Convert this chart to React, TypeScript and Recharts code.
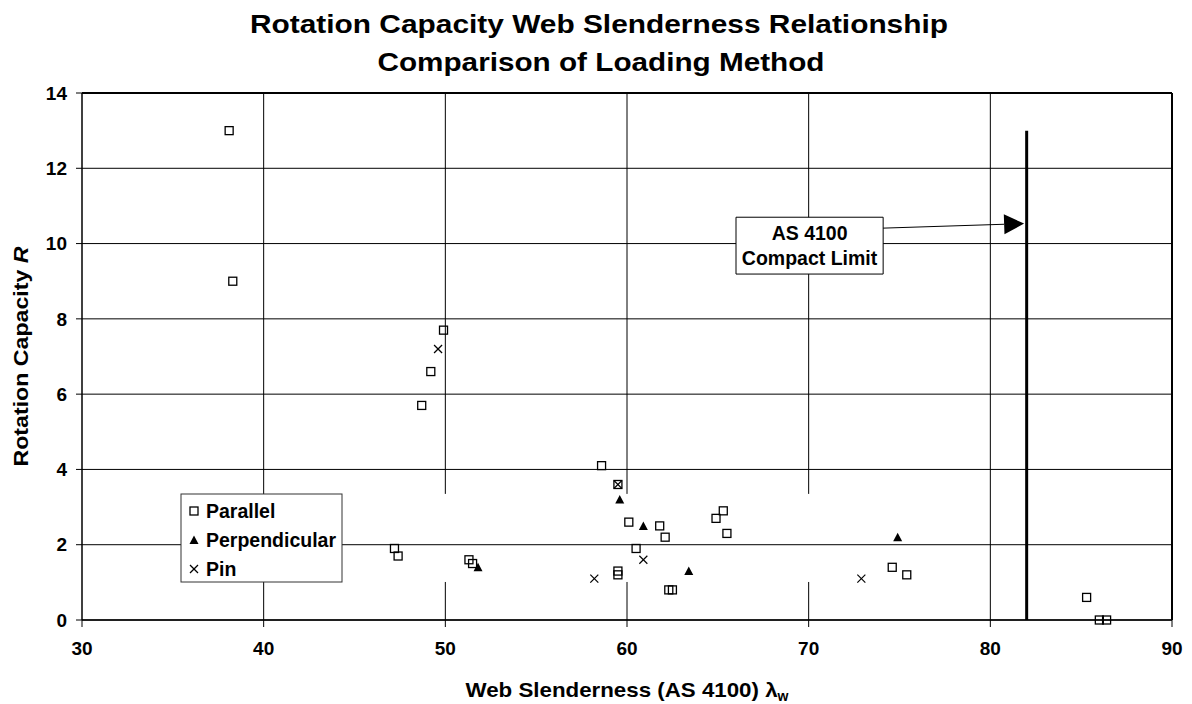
import React from 'react';
import {
  ScatterChart, Scatter, XAxis, YAxis, CartesianGrid,
  ReferenceLine, ReferenceArea,
} from 'recharts';

const FONT = '"Liberation Sans", Arial, Helvetica, sans-serif';

const xTicks = [30, 40, 50, 60, 70, 80, 90];
const yTicks = [0, 2, 4, 6, 8, 10, 12, 14];

// web slenderness (lambda_w) and rotation capacity R for each loading method
const parallelX = [38.1, 38.3, 48.7, 49.2, 49.9, 47.2, 47.4, 51.3, 51.5, 58.6, 59.5, 59.5, 59.5, 60.1, 60.5, 61.8, 62.1, 62.3, 62.5, 64.9, 65.3, 65.5, 74.6, 75.4, 85.3, 86.0, 86.4];
const parallelY = [13.0, 9.0, 5.7, 6.6, 7.7, 1.9, 1.7, 1.6, 1.5, 4.1, 3.6, 1.3, 1.2, 2.6, 1.9, 2.5, 2.2, 0.8, 0.8, 2.7, 2.9, 2.3, 1.4, 1.2, 0.6, 0.0, 0.0];

const perpendicularX = [51.8, 59.6, 60.9, 63.4, 74.9];
const perpendicularY = [1.4, 3.2, 2.5, 1.3, 2.2];

const pinX = [49.6, 59.5, 60.9, 58.2, 72.9];
const pinY = [7.2, 3.6, 1.6, 1.1, 1.1];

// AS 4100 compact limit for the web
const compactLimit = 82;
const compactLimitTop = 13;

const toPoints = (xs: number[], ys: number[]) => xs.map((x, i) => ({ x, y: ys[i] }));

const parallel = toPoints(parallelX, parallelY);
const perpendicular = toPoints(perpendicularX, perpendicularY);
const pin = toPoints(pinX, pinY);

// callout box and the arrow pointing at the limit line
const callout = { x1: 66.0, x2: 74.1, y1: 9.19, y2: 10.7 };
const arrowFrom = { x: 74.1, y: 10.41 };
const arrowTo = { x: 81.86, y: 10.53 };

// the 50-70 gridlines are broken behind the legend band, 70 also behind the callout
const legendBand: [number, number] = [1.01, 3.35];

const gridSegments = (x: number) => {
  const cuts: [number, number][] = [];
  if (x >= 50 && x <= 70) cuts.push(legendBand);
  if (x > callout.x1 && x < callout.x2) cuts.push([callout.y1, callout.y2]);
  cuts.sort((a, b) => a[0] - b[0]);
  const segs: [number, number][] = [];
  let from = 0;
  cuts.forEach(([a, b]) => {
    segs.push([from, a]);
    from = b;
  });
  segs.push([from, 14]);
  return segs;
};

const SquareDot = (props: any) => {
  const { cx, cy } = props;
  if (cx == null || cy == null) return <g />;
  return <rect x={cx - 4} y={cy - 4} width={8} height={8} fill="none" stroke="#000" strokeWidth={1.3} />;
};

const TriangleDot = (props: any) => {
  const { cx, cy } = props;
  if (cx == null || cy == null) return <g />;
  return <polygon points={`${cx},${cy - 4.5} ${cx + 4.5},${cy + 4} ${cx - 4.5},${cy + 4}`} fill="#000" />;
};

const CrossDot = (props: any) => {
  const { cx, cy } = props;
  if (cx == null || cy == null) return <g />;
  return (
    <g stroke="#000" strokeWidth={1.2}>
      <line x1={cx - 4} y1={cy - 4} x2={cx + 4} y2={cy + 4} />
      <line x1={cx - 4} y1={cy + 4} x2={cx + 4} y2={cy - 4} />
    </g>
  );
};

const ArrowShape = (props: any) => {
  const { x1, y1, x2, y2 } = props;
  const ang = Math.atan2(y2 - y1, x2 - x1);
  const cos = Math.cos(ang);
  const sin = Math.sin(ang);
  const bx = x2 - 20 * cos;
  const by = y2 - 20 * sin;
  return (
    <g>
      <line x1={x1} y1={y1} x2={bx} y2={by} stroke="#000" strokeWidth={1} />
      <polygon
        points={`${x2},${y2} ${bx + 10 * sin},${by - 10 * cos} ${bx - 10 * sin},${by + 10 * cos}`}
        fill="#000"
      />
    </g>
  );
};

const CalloutLabel = (props: any) => {
  const { x, y, width, height } = props.viewBox;
  const cx = x + width / 2;
  const cy = y + height / 2;
  return (
    <text textAnchor="middle" fontFamily={FONT} fontWeight="bold" fontSize={19.5} fill="#000">
      <tspan x={cx} y={cy - 6}>AS 4100</tspan>
      <tspan x={cx} y={cy + 19.5}>Compact Limit</tspan>
    </text>
  );
};

const XTitle = (props: any) => {
  const { x, y, width } = props.viewBox;
  return (
    <text x={x + width / 2} y={y + 77} textAnchor="middle" fontFamily={FONT} fontWeight="bold" fontSize={21} fill="#000">
      <tspan textLength={312} lengthAdjust="spacingAndGlyphs">Web Slenderness (AS 4100) λ</tspan>
      <tspan fontSize={14} dy={4}>w</tspan>
    </text>
  );
};

const YTitle = (props: any) => {
  const { x, y, height } = props.viewBox;
  const tx = x + 26;
  const ty = y + height / 2;
  return (
    <text x={tx} y={ty} transform={`rotate(-90, ${tx}, ${ty})`} textAnchor="middle" fontFamily={FONT} fontWeight="bold" fontSize={21} fill="#000" textLength={220} lengthAdjust="spacingAndGlyphs">
      Rotation Capacity <tspan fontStyle="italic">R</tspan>
    </text>
  );
};

const legendItems = [
  { name: 'Parallel', Shape: SquareDot },
  { name: 'Perpendicular', Shape: TriangleDot },
  { name: 'Pin', Shape: CrossDot },
];

const tickStyle = { fill: '#000', fontSize: 19, fontWeight: 'bold', fontFamily: FONT };

export default function App() {
  return (
    <div style={{ position: 'absolute', left: 0, top: 0, width: 1192, height: 704, background: '#fff' }}>
      <ScatterChart width={1192} height={704} margin={{ top: 93, right: 20, bottom: 24, left: 2 }}>
        <CartesianGrid vertical={false} stroke="#000" strokeWidth={1} />
        <XAxis
          type="number"
          dataKey="x"
          domain={[30, 90]}
          ticks={xTicks}
          height={60}
          tickSize={7}
          tickMargin={15}
          tick={tickStyle}
          axisLine={{ stroke: '#000', strokeWidth: 1.5 }}
          tickLine={{ stroke: '#000' }}
          label={XTitle}
        />
        <YAxis
          type="number"
          dataKey="y"
          domain={[0, 14]}
          ticks={yTicks}
          width={80}
          tickSize={6}
          tickMargin={9}
          tick={tickStyle}
          axisLine={{ stroke: '#000', strokeWidth: 1.5 }}
          tickLine={{ stroke: '#000' }}
          label={YTitle}
        />
        {xTicks.slice(1, -1).flatMap((x) =>
          gridSegments(x).map(([a, b], i) => (
            <ReferenceLine
              key={`g${x}-${i}`}
              segment={[{ x, y: a }, { x, y: b }]}
              stroke="#000"
              strokeWidth={1}
            />
          ))
        )}
        <ReferenceLine x={90} stroke="#000" strokeWidth={2} />
        <ReferenceLine y={14} stroke="#000" strokeWidth={2} />
        <ReferenceArea
          x1={callout.x1}
          x2={callout.x2}
          y1={callout.y1}
          y2={callout.y2}
          fill="#fff"
          fillOpacity={1}
          stroke="#000"
          strokeWidth={1}
          label={CalloutLabel}
        />
        <ReferenceLine segment={[arrowFrom, arrowTo]} shape={ArrowShape} />
        <ReferenceLine
          segment={[{ x: compactLimit, y: 0 }, { x: compactLimit, y: compactLimitTop }]}
          stroke="#000"
          strokeWidth={3}
        />
        <Scatter name="Parallel" data={parallel} shape={SquareDot} isAnimationActive={false} />
        <Scatter name="Perpendicular" data={perpendicular} shape={TriangleDot} isAnimationActive={false} />
        <Scatter name="Pin" data={pin} shape={CrossDot} isAnimationActive={false} />
      </ScatterChart>

      <svg width={1192} height={704} style={{ position: 'absolute', left: 0, top: 0, pointerEvents: 'none' }}>
        <text fontFamily={FONT} fontWeight="bold" fontSize={26} fill="#000" textAnchor="middle">
          <tspan x={599} y={33} textLength={698} lengthAdjust="spacingAndGlyphs">Rotation Capacity Web Slenderness Relationship</tspan>
          <tspan x={601} y={71} textLength={447} lengthAdjust="spacingAndGlyphs">Comparison of Loading Method</tspan>
        </text>
        <rect x={181} y={494} width={161} height={88} fill="#fff" stroke="#333" strokeWidth={1} />
        {legendItems.map(({ name, Shape }, i) => {
          const cy = 511 + i * 29;
          return (
            <g key={name}>
              <Shape cx={194} cy={cy} />
              <text x={206} y={cy + 7} fontFamily={FONT} fontWeight="bold" fontSize={19.5} fill="#000">
                {name}
              </text>
            </g>
          );
        })}
      </svg>
    </div>
  );
}
